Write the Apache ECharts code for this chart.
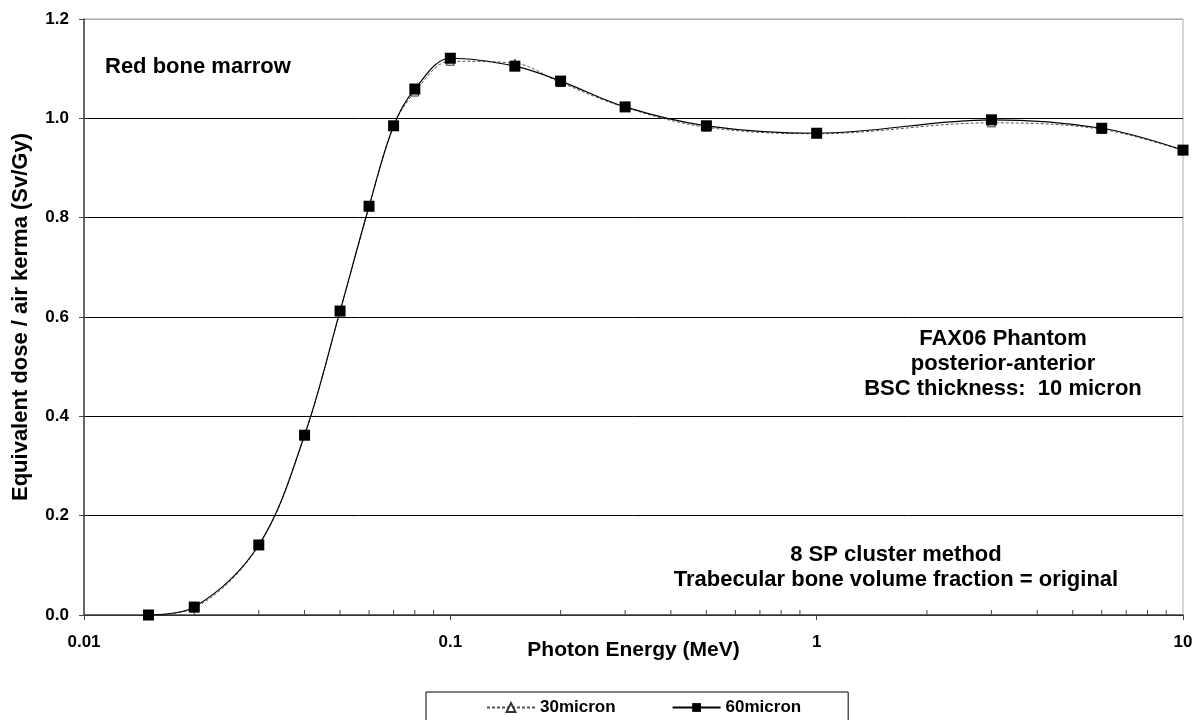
<!DOCTYPE html>
<html>
<head>
<meta charset="utf-8">
<script src="https://cdn.jsdelivr.net/npm/echarts@6/dist/echarts.min.js"></script>
<style>
html,body{margin:0;padding:0;background:#fff;}
#chart{width:1201px;height:720px;}
</style>
</head>
<body>
<div id="chart"></div>
<script>
// Photon energies (MeV)
const energies = [0.015, 0.02, 0.03, 0.04, 0.05, 0.06, 0.07, 0.08, 0.1, 0.15, 0.2, 0.3, 0.5, 1, 3, 6, 10];
// Equivalent dose / air kerma (Sv/Gy)
const micron30 = [0.000, 0.014, 0.140, 0.362, 0.612, 0.822, 0.984, 1.053, 1.115, 1.111, 1.072, 1.022, 0.982, 0.969, 0.991, 0.978, 0.935];
const micron60 = [0.000, 0.016, 0.141, 0.362, 0.612, 0.823, 0.985, 1.059, 1.121, 1.105, 1.075, 1.023, 0.985, 0.970, 0.997, 0.980, 0.936];
const minorTickValues = [0.02,0.03,0.04,0.05,0.06,0.07,0.08,0.09,0.2,0.3,0.4,0.5,0.6,0.7,0.8,0.9,2,3,4,5,6,7,8,9];
const yTicks = [0, 1.2, 0.2];
const xRange = [0.01, 10];
const noteTopLeft = ['Red bone marrow'];
const notePhantom = ['FAX06 Phantom', 'posterior-anterior', 'BSC thickness:  10 micron'];
const noteMethod = ['8 SP cluster method', 'Trabecular bone volume fraction = original'];

const FONT = '"Liberation Sans", Arial, sans-serif';
const chart = echarts.init(document.getElementById('chart'));

function centeredLines(lines, cx, y0, step) {
  return lines.map((t, i) => ({
    type: 'text', x: cx, y: y0 + i * step,
    style: { text: t, font: 'bold 22px ' + FONT, fill: '#000', align: 'center', verticalAlign: 'middle' }
  }));
}

const option = {
  backgroundColor: '#fff',
  animation: false,
  grid: { left: 84, right: 18, top: 19, bottom: 105, containLabel: false, outerBoundsMode: 'none',
          show: true, borderColor: '#aaa', borderWidth: 1, backgroundColor: 'transparent' },
  xAxis: {
    type: 'log', logBase: 10, min: xRange[0], max: xRange[1],
    name: 'Photon Energy (MeV)', nameLocation: 'middle', nameGap: 25, nameMoveOverlap: false,
    nameTextStyle: { fontFamily: FONT, fontWeight: 'bold', fontSize: 21, color: '#000' },
    axisLine: { show: true, lineStyle: { color: '#444', width: 1.5 } },
    axisTick: { show: true, length: 5, lineStyle: { color: '#444' } },
    axisLabel: { fontFamily: FONT, fontWeight: 'bold', fontSize: 17, color: '#000', margin: 19,
      formatter: v => String(+(+v).toPrecision(2)) },
    splitLine: { show: false },
    minorTick: { show: false }
  },
  yAxis: {
    type: 'value', min: yTicks[0], max: yTicks[1], interval: yTicks[2],
    name: 'Equivalent dose / air kerma (Sv/Gy)', nameLocation: 'middle', nameGap: 52, nameMoveOverlap: false,
    nameTextStyle: { fontFamily: FONT, fontWeight: 'bold', fontSize: 22, color: '#000' },
    axisLine: { show: true, lineStyle: { color: '#444', width: 1.5 } },
    axisTick: { show: true, length: 5, lineStyle: { color: '#444' } },
    axisLabel: { fontFamily: FONT, fontWeight: 'bold', fontSize: 17, color: '#000', margin: 15,
      formatter: v => v.toFixed(1) },
    splitLine: { show: true, lineStyle: { color: ['#000','#000','#000','#000','#000','#000','#aaa'], width: 1 } }
  },
  legend: {
    data: ['30micron', '60micron'],
    left: 426, top: 692,
    padding: [7, 47, 14, 60],
    itemGap: 56, itemWidth: 48, itemHeight: 11,
    borderColor: '#000', borderWidth: 1,
    textStyle: { fontFamily: FONT, fontWeight: 'bold', fontSize: 17, color: '#000' }
  },
  graphic: [
    { type: 'text', x: 105, y: 67, style: { text: noteTopLeft[0], font: 'bold 22px ' + FONT, fill: '#000', align: 'left', verticalAlign: 'middle' } }
  ].concat(centeredLines(notePhantom, 1003, 339, 25))
   .concat(centeredLines(noteMethod, 896, 555, 25)),
  series: [
    {
      name: '30micron', type: 'line', smooth: 0.35,
      data: energies.map((e, i) => [e, micron30[i]]),
      symbol: 'triangle', symbolSize: 8,
      itemStyle: { color: '#fff', borderColor: '#333', borderWidth: 1 },
      lineStyle: { color: '#555', width: 1, type: [3, 2] },
      z: 2
    },
    {
      name: '60micron', type: 'line', smooth: 0.35,
      data: energies.map((e, i) => [e, micron60[i]]),
      symbol: 'rect', symbolSize: 11,
      itemStyle: { color: '#000' },
      lineStyle: { color: '#000', width: 1.2 },
      z: 3
    },
    {
      name: 'minorTicks', type: 'custom', silent: true,
      data: minorTickValues.map(v => [v, 0]),
      encode: { x: 0, y: 1 },
      renderItem: function (params, api) {
        const p = api.coord([api.value(0), 0]);
        return { type: 'line', shape: { x1: p[0], y1: p[1], x2: p[0], y2: p[1] - 5 }, style: { stroke: '#444', lineWidth: 1 } };
      },
      z: 1
    }
  ]
};
chart.setOption(option);
</script>
</body>
</html>
